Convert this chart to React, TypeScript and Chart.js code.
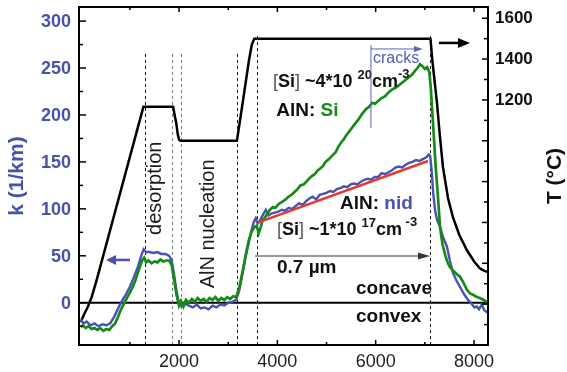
import React, { useEffect, useRef } from 'react';
import { Chart, registerables } from 'chart.js';

Chart.register(...registerables);

const FONT = '"Liberation Sans", Arial, Helvetica, sans-serif';
const BLUE = '#4753b3';
const BLUE_TEXT = '#4753a8';
const GREEN = '#168a16';
const RED = '#e6392e';

// ---------- data ----------
const nidTime = [0,60,120,200,280,360,440,520,600,680,760,840,920,1000,1080,1160,1230,1280,1330,1400,1480,1560,1640,1720,1800,1850,1900,1950,1990,2050,2120,2200,2280,2360,2440,2520,2600,2680,2760,2840,2920,3000,3080,3160,3220,3280,3340,3400,3460,3520,3560,3600,3650,3700,3765,3820,3880,3950,4020,4090,4160,4230,4300,4372,4440,4510,4580,4650,4717,4790,4860,4930,5000,5070,5140,5210,5280,5350,5420,5490,5560,5630,5700,5770,5840,5910,5980,6050,6120,6190,6260,6330,6400,6470,6540,6610,6680,6750,6820,6890,6960,7030,7080,7110,7140,7170,7210,7250,7308,7370,7449,7510,7571,7640,7713,7800,7880,7950,8010,8057,8100,8158,8210,8259,8285];
const nidK = [-18,-22,-20,-24,-22,-25,-23,-24,-22,-15,-6,2,9,17,27,38,50,57,54,54,53,54,52,52,50,45,30,12,2,-4,-1,-3,-5,-2,-6,-5,-7,-3,-5,-2,-3,0,1,3,12,28,45,60,74,86,90,84,88,93,99,93,95,96,97,99,98,101,100,103,106,104,108,111,113,110,115,116,117,119,118,121,122,124,123,126,127,126,129,131,132,131,134,134,138,137,139,141,144,145,144,147,149,150,152,151,153,155,158,156,140,117,98,88,81,70,60,45,32,24,17,9,3,-1,-5,-4,-7,-2,-8,-10,-10];

const siTime = [0,50,100,160,220,280,340,400,460,520,580,640,700,760,820,870,930,990,1040,1100,1150,1200,1250,1290,1330,1380,1440,1500,1560,1620,1680,1740,1800,1850,1900,1950,2000,2040,2090,2140,2200,2260,2320,2380,2440,2500,2560,2620,2680,2740,2800,2860,2920,2980,3040,3100,3160,3220,3300,3360,3421,3480,3540,3580,3620,3660,3700,3750,3800,3850,3907,3960,4020,4080,4140,4231,4290,4350,4410,4470,4530,4575,4640,4700,4760,4820,4870,4919,4980,5050,5120,5182,5240,5300,5350,5385,5440,5500,5570,5648,5720,5800,5870,5931,5990,6050,6120,6194,6260,6330,6400,6457,6530,6600,6670,6741,6800,6850,6903,6950,7000,7045,7090,7120,7150,7180,7220,7260,7308,7360,7420,7470,7510,7560,7620,7680,7713,7780,7854,7920,8000,8060,8117,8200,8259,8285];
const siK = [-26,-24,-27,-25,-28,-27,-29,-27,-30,-28,-29,-25,-22,-15,-7,-2,4,10,15,22,30,38,45,48,43,45,42,44,43,46,44,45,45,40,25,8,-3,2,-4,3,0,4,1,5,2,4,1,5,3,6,2,5,3,6,4,7,6,15,35,52,67,76,81,82,74,80,88,91,95,99,102,101,105,107,109,113,115,118,121,125,126,128,132,135,137,141,143,145,150,153,157,160,166,171,174,177,181,185,190,195,201,206,209,213,212,215,218,220,224,227,229,231,234,237,240,243,247,250,254,252,249,251,246,230,205,180,145,118,81,62,50,42,38,35,32,29,28,22,14,10,8,6,5,3,1,1];

const tempTime = [0,60,150,223,324,1275,1880,1915,1943,1975,2004,2030,3178,3300,3421,3480,3530,7115,7150,7200,7247,7300,7368,7471,7571,7700,7854,8000,8117,8200,8285];
const tempC = [112,146,190,234,318,1166,1166,1120,1087,1030,1004,1000,1000,1195,1392,1470,1500,1500,1400,1290,1185,1040,872,720,626,540,465,410,376,364,357];

const fitTime = [3586, 7064];
const fitK = [85, 151];

// ---------- axes ----------
const X_MIN = -35, X_MAX = 8285;
const K_MIN = -45, K_MAX = 315;
const T_MIN = 0, T_MAX = 1655;

const xTickLabels = [2000, 4000, 6000, 8000];
const xMinorTicks = [1000, 3000, 5000, 7000];
const kTickLabels = [0, 50, 100, 150, 200, 250, 300];
const kMinorTicks = [-25, 25, 75, 125, 175, 225, 275];
const tTickLabels = [1200, 1400, 1600];
const tMajorTicks = [0, 200, 400, 600, 800, 1000, 1200, 1400, 1600];
const tMinorTicks = [100, 300, 500, 700, 900, 1100, 1300, 1500];

// phase boundaries (time) and where the dashed line starts (k units)
const phaseTimes = [1300, 1850, 2030, 3180, 3580, 7100];
const phaseTops = [265, 265, 265, 265, 284, 284];
const phaseGray = [false, true, true, false, false, false];

function pts(xs: number[], ys: number[]) {
  return xs.map((x, i) => ({ x, y: ys[i] }));
}

function arrow(ctx: CanvasRenderingContext2D, x1: number, y1: number, x2: number, y2: number, color: string, w: number, hl: number, hw: number) {
  const ang = Math.atan2(y2 - y1, x2 - x1);
  const bx = x2 - Math.cos(ang) * hl;
  const by = y2 - Math.sin(ang) * hl;
  ctx.save();
  ctx.strokeStyle = color;
  ctx.fillStyle = color;
  ctx.lineWidth = w;
  ctx.setLineDash([]);
  ctx.beginPath();
  ctx.moveTo(x1, y1);
  ctx.lineTo(bx, by);
  ctx.stroke();
  ctx.beginPath();
  ctx.moveTo(x2, y2);
  ctx.lineTo(bx + Math.sin(ang) * hw, by - Math.cos(ang) * hw);
  ctx.lineTo(bx - Math.sin(ang) * hw, by + Math.cos(ang) * hw);
  ctx.closePath();
  ctx.fill();
  ctx.restore();
}

type Run = { t: string; f: string; c: string; r?: number };
function runs(ctx: CanvasRenderingContext2D, x: number, y: number, list: Run[]) {
  let cx = x;
  ctx.textAlign = 'left';
  ctx.textBaseline = 'middle';
  for (const r of list) {
    ctx.font = r.f;
    ctx.fillStyle = r.c;
    ctx.fillText(r.t, cx, y - (r.r || 0));
    cx += ctx.measureText(r.t).width;
  }
}

const B18 = `bold 18px ${FONT}`;
const B19 = `bold 19px ${FONT}`;
const R18 = `18px ${FONT}`;
const S13 = `bold 13px ${FONT}`;

const decor = {
  id: 'decor',
  beforeDatasetsDraw(chart: any) {
    const { ctx, chartArea: a, scales } = chart;
    const xs = scales.x, ks = scales.k;
    ctx.save();
    ctx.strokeStyle = '#000';
    ctx.lineWidth = 2;
    const y0 = ks.getPixelForValue(0);
    ctx.beginPath();
    ctx.moveTo(a.left, y0);
    ctx.lineTo(a.right, y0);
    ctx.stroke();
    ctx.lineWidth = 1;
    ctx.setLineDash([3, 3]);
    phaseTimes.forEach((t, i) => {
      ctx.strokeStyle = phaseGray[i] ? '#777' : '#111';
      const px = Math.round(xs.getPixelForValue(t)) + 0.5;
      ctx.beginPath();
      ctx.moveTo(px, ks.getPixelForValue(phaseTops[i]));
      ctx.lineTo(px, a.bottom);
      ctx.stroke();
    });
    ctx.restore();
  },
  afterDatasetsDraw(chart: any) {
    const { ctx, chartArea: a, scales } = chart;
    const xs = scales.x, ks = scales.k, ts = scales.t;
    const X = (v: number) => xs.getPixelForValue(v);
    const K = (v: number) => ks.getPixelForValue(v);
    const T = (v: number) => ts.getPixelForValue(v);
    ctx.save();

    // frame
    ctx.strokeStyle = '#000';
    ctx.lineWidth = 2;
    ctx.setLineDash([]);
    ctx.strokeRect(a.left, a.top, a.right - a.left, a.bottom - a.top);

    // ticks (inward)
    ctx.lineWidth = 1.5;
    const vt = (v: number, len: number) => {
      const px = X(v);
      ctx.beginPath();
      ctx.moveTo(px, a.bottom); ctx.lineTo(px, a.bottom - len);
      ctx.moveTo(px, a.top); ctx.lineTo(px, a.top + len);
      ctx.stroke();
    };
    xTickLabels.forEach(v => vt(v, 5));
    xMinorTicks.forEach(v => vt(v, 3));
    const lt = (v: number, len: number) => {
      const py = K(v);
      ctx.beginPath(); ctx.moveTo(a.left, py); ctx.lineTo(a.left + len, py); ctx.stroke();
    };
    kTickLabels.forEach(v => lt(v, 7));
    kMinorTicks.forEach(v => lt(v, 4));
    const rt = (v: number, len: number) => {
      const py = T(v);
      ctx.beginPath(); ctx.moveTo(a.right, py); ctx.lineTo(a.right - len, py); ctx.stroke();
    };
    tMajorTicks.forEach(v => rt(v, 6));
    tMinorTicks.forEach(v => rt(v, 4));

    // tick labels
    ctx.textBaseline = 'middle';
    ctx.font = B18;
    ctx.fillStyle = BLUE_TEXT;
    ctx.textAlign = 'right';
    kTickLabels.forEach(v => ctx.fillText(String(v), a.left - 8, K(v) + 1));
    ctx.font = `bold 17px ${FONT}`;
    ctx.fillStyle = '#111';
    ctx.textAlign = 'left';
    tTickLabels.forEach(v => ctx.fillText(String(v), a.right + 7, T(v)));
    ctx.font = R18;
    ctx.fillStyle = '#222';
    ctx.textAlign = 'center';
    xTickLabels.forEach(v => ctx.fillText(String(v), X(v), a.bottom + 17));

    // axis titles
    ctx.font = `bold 21px ${FONT}`;
    ctx.save();
    ctx.translate(17, (a.top + a.bottom) / 2);
    ctx.rotate(-Math.PI / 2);
    ctx.fillStyle = BLUE_TEXT;
    ctx.textAlign = 'center';
    ctx.fillText('k (1/km)', 0, 0);
    ctx.restore();
    ctx.save();
    ctx.translate(555, (a.top + a.bottom) / 2);
    ctx.rotate(-Math.PI / 2);
    ctx.fillStyle = '#111';
    ctx.textAlign = 'center';
    ctx.fillText('T (°C)', 0, 0);
    ctx.restore();

    // rotated phase labels
    ctx.font = `20px ${FONT}`;
    ctx.fillStyle = '#1a1a1a';
    ctx.save();
    ctx.translate(X(1511), K(122));
    ctx.rotate(-Math.PI / 2);
    ctx.textAlign = 'center';
    ctx.fillText('desorption', 0, 0);
    ctx.restore();
    ctx.save();
    ctx.translate(X(2589), K(84));
    ctx.rotate(-Math.PI / 2);
    ctx.textAlign = 'center';
    ctx.fillText('AlN nucleation', 0, 0);
    ctx.restore();

    // Si-doped annotations
    runs(ctx, X(3911), K(235), [
      { t: '[', f: R18, c: '#555' },
      { t: 'Si', f: B18, c: '#111' },
      { t: ']', f: R18, c: '#555' },
      { t: ' ~4*10 ', f: B18, c: '#111' },
      { t: '20', f: S13, c: '#111', r: 7 },
      { t: 'cm', f: B18, c: '#111' },
      { t: '-3', f: S13, c: '#111', r: 8 },
    ]);
    runs(ctx, X(3977), K(205), [
      { t: 'AlN: ', f: B19, c: '#111' },
      { t: 'Si', f: B19, c: GREEN },
    ]);
    runs(ctx, X(5274), K(105), [
      { t: 'AlN: ', f: B19, c: '#111' },
      { t: 'nid', f: B19, c: BLUE },
    ]);
    runs(ctx, X(3992), K(77), [
      { t: '[', f: R18, c: '#555' },
      { t: 'Si', f: B18, c: '#111' },
      { t: ']', f: R18, c: '#555' },
      { t: ' ~1*10 ', f: B18, c: '#111' },
      { t: '17', f: S13, c: '#111', r: 7 },
      { t: 'cm', f: B18, c: '#111' },
      { t: ' -3', f: S13, c: '#111', r: 8 },
    ]);

    // cracks
    ctx.strokeStyle = '#5a66c0';
    ctx.lineWidth = 1;
    ctx.beginPath();
    ctx.moveTo(X(5904), K(274.5));
    ctx.lineTo(X(5904), K(186));
    ctx.stroke();
    arrow(ctx, X(5904), K(270.3), X(6962), K(270.3), '#5a66c0', 1, 9, 3);
    runs(ctx, X(5945), K(259.6), [{ t: 'cracks', f: `16px ${FONT}`, c: '#4f5cba' }]);

    // 0.7 µm arrow
    arrow(ctx, X(3545), K(49.8), X(7104), K(49.8), '#333', 1.2, 12, 3.5);
    runs(ctx, X(3992), K(37), [{ t: '0.7 µm', f: B19, c: '#111' }]);

    // concave / convex
    runs(ctx, X(5599), K(14.7), [{ t: 'concave', f: B19, c: '#111' }]);
    runs(ctx, X(5599), K(-15.2), [{ t: 'convex', f: B19, c: '#111' }]);

    // axis pointer arrows
    arrow(ctx, X(1002), K(45.6), X(514), K(45.6), BLUE, 2.5, 10, 5);
    arrow(ctx, X(7287), T(1479), X(7918), T(1479), '#000', 2.5, 12, 5);

    ctx.restore();
  },
};

export default function App() {
  const ref = useRef<HTMLCanvasElement | null>(null);
  useEffect(() => {
    document.body.style.margin = '0';
    const canvas = ref.current!;
    const chart = new Chart(canvas, {
      type: 'scatter',
      data: {
        datasets: [
          {
            label: 'fit',
            data: pts(fitTime, fitK),
            yAxisID: 'k',
            showLine: true,
            borderColor: RED,
            borderWidth: 2.5,
            pointRadius: 0,
            order: 0,
          },
          {
            label: 'AlN: Si',
            data: pts(siTime, siK),
            yAxisID: 'k',
            showLine: true,
            borderColor: GREEN,
            borderWidth: 2.7,
            pointRadius: 0,
            order: 1,
          },
          {
            label: 'AlN: nid',
            data: pts(nidTime, nidK),
            yAxisID: 'k',
            showLine: true,
            borderColor: BLUE,
            borderWidth: 2.4,
            pointRadius: 0,
            order: 2,
          },
          {
            label: 'T',
            data: pts(tempTime, tempC),
            yAxisID: 't',
            showLine: true,
            borderColor: '#000',
            borderWidth: 2.5,
            pointRadius: 0,
            order: 3,
          },
        ],
      },
      options: {
        animation: false,
        responsive: false,
        devicePixelRatio: 1,
        layout: { padding: { left: 79, right: 79, top: 7, bottom: 27 } },
        plugins: { legend: { display: false }, tooltip: { enabled: false } },
        events: [],
        scales: {
          x: { type: 'linear', min: X_MIN, max: X_MAX, display: false },
          k: { type: 'linear', position: 'left', min: K_MIN, max: K_MAX, display: false },
          t: { type: 'linear', position: 'right', min: T_MIN, max: T_MAX, display: false },
        },
      },
      plugins: [decor],
    });
    return () => chart.destroy();
  }, []);
  return (
    <div style={{ position: 'fixed', left: 0, top: 0, width: 567, height: 372, background: '#fff' }}>
      <canvas ref={ref} width={567} height={372} style={{ display: 'block', width: 567, height: 372 }} />
    </div>
  );
}
